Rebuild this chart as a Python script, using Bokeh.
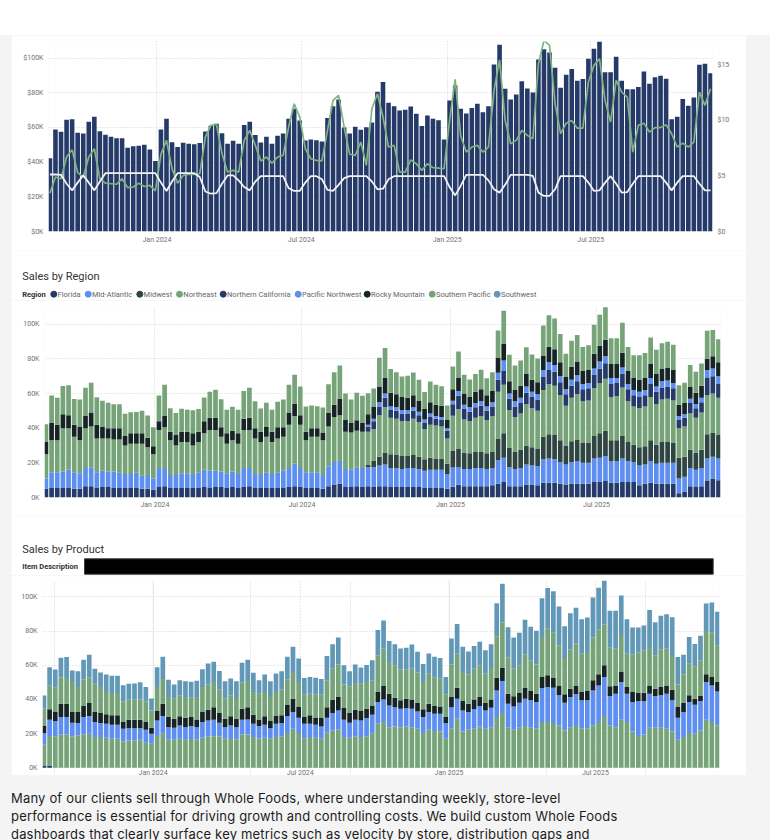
import numpy as np
import pandas as pd
from bokeh.plotting import figure
from bokeh.models import (ColumnDataSource, Range1d, LinearAxis, FixedTicker,
                          DatetimeTickFormatter, PrintfTickFormatter, Div)
from bokeh.layouts import column
from bokeh.core.properties import value
from bokeh.embed import file_html
from bokeh.resources import INLINE

# ---------------------------------------------------------------- data
weeks = pd.date_range("2023-08-19", periods=120, freq="7D")
tick_dates = ["2024-01-01", "2024-07-01", "2025-01-01", "2025-07-01"]
tick_labels = ["Jan 2024", "Jul 2024", "Jan 2025", "Jul 2025"]

# weekly sales, $K
sales_k = [42.3, 58.8, 57.5, 64.4, 64.8, 56.9, 56.5, 63.3, 66.2, 57.9, 55.8, 54.6, 53.8, 53.8, 48.3,
           49.2, 49.4, 50.0, 47.3, 40.6, 58.8, 65.0, 51.5, 48.7, 51.2, 50.6, 50.4, 51.0, 57.7, 61.0,
           62.1, 56.7, 50.6, 52.3, 50.6, 61.5, 63.3, 55.6, 51.3, 54.6, 50.6, 55.2, 56.5, 65.0, 70.8,
           64.0, 52.5, 53.1, 52.7, 51.9, 65.4, 72.3, 76.2, 60.0, 56.5, 60.4, 58.7, 60.2, 62.9, 80.6,
           86.2, 74.2, 72.3, 69.8, 70.2, 72.1, 67.9, 60.8, 66.9, 65.0, 64.2, 53.1, 75.6, 84.2, 70.8,
           68.1, 71.3, 73.7, 68.8, 72.3, 96.3, 107.7, 82.3, 76.2, 79.0, 86.7, 82.5, 80.2, 99.2, 105.2,
           103.3, 94.4, 82.9, 90.4, 93.7, 86.9, 87.9, 99.6, 105.4, 109.8, 91.9, 91.9, 100.8, 86.9, 82.1,
           82.1, 83.3, 92.3, 85.2, 89.0, 89.8, 88.1, 64.8, 66.2, 76.5, 72.5, 77.3, 96.2, 96.7, 91.3]

# average unit price, $ (green line)
avg_unit_price = [3.45, 4.9, 4.75, 6.7, 7.35, 5.3, 4.9, 6.7, 7.45, 4.75, 4.35, 4.3, 4.25, 4.75, 3.95,
                  4.0, 4.35, 4.05, 4.15, 3.65, 6.95, 8.2, 5.65, 4.35, 5.05, 5.15, 5.15, 5.2, 8.5, 9.55,
                  9.65, 7.0, 5.35, 5.5, 5.35, 8.2, 9.1, 7.75, 6.35, 6.7, 6.15, 6.7, 6.85, 9.4, 11.5,
                  10.3, 7.45, 6.55, 6.4, 6.35, 9.1, 11.8, 12.25, 9.4, 6.95, 6.85, 8.05, 5.95, 11.05, 12.4,
                  10.3, 7.6, 7.75, 5.35, 5.35, 6.45, 6.1, 5.5, 6.1, 5.75, 5.7, 5.65, 10.0, 13.7, 8.6,
                  7.15, 7.6, 7.75, 7.15, 7.6, 12.7, 15.45, 10.0, 7.9, 8.2, 9.1, 8.65, 8.35, 15.1, 17.2,
                  16.75, 11.5, 8.8, 9.75, 10.0, 9.3, 9.3, 13.45, 14.95, 15.55, 11.8, 9.85, 13.6, 12.55, 12.1,
                  7.15, 9.55, 9.75, 8.95, 9.35, 9.35, 9.6, 8.8, 7.6, 7.95, 7.6, 8.05, 12.55, 11.35, 12.85]

# shelf price, $ (white line)
shelf_price = [5.13, 5.13, 5.1, 4.3, 3.7, 4.4, 5.05, 4.4, 3.7, 4.5, 5.25, 5.25, 5.25, 5.25, 5.25,
               5.25, 5.25, 5.25, 5.25, 5.25, 4.4, 3.65, 4.5, 5.25, 5.25, 5.25, 5.25, 4.9, 3.6, 3.4,
               3.45, 4.3, 5.05, 5.05, 4.6, 4.0, 3.7, 4.5, 4.98, 4.98, 4.98, 4.98, 4.98, 3.9, 3.65,
               3.65, 4.4, 4.98, 4.98, 4.7, 3.75, 3.65, 4.2, 4.8, 4.98, 4.98, 4.98, 4.98, 4.5, 3.8,
               3.85, 4.7, 4.98, 4.98, 4.98, 4.98, 4.98, 4.98, 4.98, 4.98, 4.98, 4.98, 4.0, 3.25, 4.1,
               5.1, 5.1, 5.1, 5.1, 4.6, 3.8, 3.5, 4.2, 5.1, 5.1, 5.1, 5.1, 5.0, 3.5, 3.2,
               3.2, 3.8, 4.98, 4.98, 4.98, 4.98, 4.98, 4.4, 3.65, 3.7, 4.4, 4.98, 4.3, 3.5, 3.55,
               4.3, 4.98, 4.98, 4.98, 4.98, 4.98, 4.4, 3.7, 4.4, 4.98, 4.98, 4.98, 4.3, 3.7, 3.7]

# sales by region, $K
florida = [5.0, 5.5, 5.5, 5.5, 5.5, 5.0, 5.0, 6.5, 6.5, 5.5, 6.0, 6.0, 5.5, 5.5, 5.5, 5.5, 5.5, 5.0, 5.0, 4.5,
           6.0, 6.5, 5.5, 5.5, 5.5, 5.5, 5.5, 5.5, 6.0, 5.5, 6.0, 6.0, 5.5, 6.0, 5.5, 6.0, 6.5, 5.5, 5.5, 5.5,
           5.5, 5.5, 5.5, 6.0, 6.5, 6.0, 5.5, 5.5, 5.5, 5.0, 6.5, 7.5, 8.0, 6.0, 6.0, 6.5, 6.0,
           6.5, 6.0, 6.5, 6.5, 6.0, 6.0, 6.0, 6.0, 6.0, 6.0, 5.5, 5.5, 5.5, 5.5, 5.0, 6.2, 7.3, 6.5, 6.5,
           6.5, 6.5, 6.5, 7.0, 8.0, 9.0, 6.5, 6.5, 6.5, 7.5, 7.5, 7.0, 8.5, 8.5, 8.5, 8.0, 7.5, 8.0, 8.0,
           8.0, 8.0, 9.0, 9.0, 9.5, 8.5, 8.5, 9.0, 9.0, 9.0, 7.0, 8.0, 8.5, 8.0, 8.0, 8.0, 8.0, 2.5, 3.5,
           6.5, 6.0, 6.5, 9.5, 11.0, 10.0]
mid_atlantic = [6.0, 9.0, 9.0, 9.5, 10.5, 9.5, 9.0, 10.5, 11.0, 9.0, 9.5, 9.0, 9.5, 9.0, 8.0, 8.0, 9.0, 7.5,
                8.0, 6.5, 10.5, 10.5, 7.5, 7.5, 8.5, 8.5, 7.5, 9.0, 10.0, 10.0, 9.5, 9.0, 8.5, 9.0, 8.0,
                11.0, 10.5, 8.0, 7.5, 9.0, 8.0, 9.0, 10.0, 11.0, 13.0, 11.0, 9.0, 9.0, 9.0, 8.0, 11.5,
                13.0, 13.0, 10.5, 10.0, 11.0, 11.0,
                11.0, 11.5, 12.0, 12.5, 11.0, 11.0, 10.5, 11.0, 11.0, 10.5, 10.0, 10.5, 10.5, 10.5, 8.5,
                11.1, 10.0, 10.0, 10.0, 10.5, 10.5, 10.0, 10.0, 13.5, 14.0, 11.0, 10.0, 10.5, 11.5, 11.0,
                11.0, 13.5, 14.0, 13.5, 12.5, 11.5, 12.5, 13.0, 12.0, 12.0, 13.5, 14.0, 14.5, 12.5, 12.5,
                13.5, 12.0, 11.5, 11.5, 11.0, 12.5, 11.5, 12.0, 12.0, 12.0, 8.5, 8.5, 10.5, 10.0, 10.5,
                13.0, 12.5, 12.5]
midwest = [0.0] * 57 + [
           1.5, 3.5, 5.0, 7.0, 8.0, 7.5, 7.5, 7.0, 7.5, 7.0, 6.5, 7.0, 6.5, 6.5, 6.0, 9.6, 11.0, 9.5,
           9.0, 9.5, 9.5, 9.0, 9.5, 12.5, 14.0, 11.0, 10.0, 10.5, 11.0, 10.5, 10.0, 13.0, 14.0, 14.0,
           12.5, 11.0, 12.0, 12.5, 11.5, 11.5, 13.0, 14.0, 14.5, 12.0, 12.0, 13.0, 11.0, 10.0, 10.5,
           10.5, 12.0, 11.0, 12.0, 12.0, 11.5, 12.0, 11.5, 10.5, 10.0, 10.5, 14.0, 14.0, 13.5]
northeast = [14.0, 18.5, 18.5, 25.0, 24.0, 20.5, 19.0, 23.0, 23.5, 19.5, 18.5, 19.0, 18.5, 19.0, 16.5, 17.5,
             16.5, 18.5, 16.0, 14.0, 22.5, 23.5, 20.0, 17.0, 18.0, 18.0, 17.0, 17.5, 21.0, 23.5, 23.5,
             20.0, 17.0, 18.0, 17.5, 22.0, 22.0, 20.5, 19.0, 20.5, 18.5, 19.5, 19.5, 25.0, 27.5, 25.0,
             18.5, 20.5, 20.5, 20.0, 23.0, 26.0, 26.5, 21.5, 21.5, 21.0, 21.0,
             19.0, 18.5, 24.0, 26.0, 21.0, 21.0, 20.0, 20.0, 21.0, 20.0, 17.5, 19.0, 19.0, 18.5, 14.5,
             20.2, 22.7, 19.0, 18.5, 19.5, 20.5, 19.0, 20.5, 27.0, 28.0, 22.0, 20.0, 21.0, 24.0, 22.5,
             22.0, 27.0, 29.0, 28.5, 26.0, 23.0, 25.0, 26.0, 24.0, 24.5, 27.5, 29.0, 30.0, 25.0, 25.5,
             28.0, 23.5, 22.0, 22.5, 23.0, 25.0, 23.5, 24.5, 25.0, 24.5, 17.0, 17.5, 21.0, 20.0, 21.5,
             22.5, 22.5, 21.5]
northern_california = [0.0] * 57 + [
             3.0, 4.5, 5.0, 5.5, 4.5, 4.5, 4.5, 4.5, 4.5, 4.0, 3.5, 4.5, 4.0, 4.0, 4.5, 6.7, 7.7, 6.0,
             5.5, 6.0, 6.0, 5.5, 5.5, 7.0, 8.0, 6.5, 6.0, 6.0, 6.5, 6.5, 6.5, 7.5, 8.0, 8.0, 7.5, 6.5,
             7.0, 7.5, 7.0, 7.0, 8.0, 8.5, 9.0, 7.5, 7.5, 8.0, 7.0, 6.5, 6.5, 6.5, 7.5, 7.0, 7.0, 7.0,
             7.0, 5.0, 5.0, 6.0, 5.5, 6.0, 10.0, 10.0, 8.0]
pacific_northwest = [0.0] * 57 + [
             1.0, 1.5, 2.5, 2.5, 2.0, 2.0, 2.0, 2.0, 2.0, 2.0, 2.0, 2.0, 1.5, 1.5, 1.5, 2.0, 2.8, 2.5,
             2.5, 2.5, 2.5, 2.5, 2.5, 4.0, 6.0, 3.0, 3.0, 3.0, 3.5, 3.0, 3.0, 4.0, 4.5, 4.0, 3.5, 3.0,
             3.5, 3.5, 3.0, 3.0, 3.5, 4.0, 4.0, 3.5, 3.0, 3.5, 3.0, 3.0, 3.0, 3.0, 3.5, 3.0, 3.5, 3.5,
             3.0, 2.0, 2.0, 2.5, 2.5, 2.5, 4.5, 4.5, 4.5]
rocky_mountain = [7.0, 10.0, 9.0, 8.0, 7.5, 7.0, 8.0, 7.0, 8.0, 8.0, 7.0, 6.0, 6.5, 6.5, 5.5, 6.0, 6.0, 6.0,
                  5.5, 4.5, 5.0, 6.5, 5.0, 6.0, 6.0, 6.0, 7.0, 6.0, 7.0, 7.0, 7.0, 5.5, 6.0, 5.5, 6.0,
                  6.5, 7.0, 6.0, 6.0, 6.0, 6.0, 6.5, 5.5, 7.0, 7.0, 5.5, 5.0, 5.0, 5.0, 4.5, 8.0, 7.0,
                  9.5, 7.0, 5.5, 6.0, 5.0,
                  6.0, 7.0, 9.0, 9.0, 8.0, 7.5, 7.5, 7.0, 7.0, 6.5, 6.0, 6.5, 6.5, 6.5, 5.0, 6.7, 7.7,
                  6.5, 6.0, 6.5, 7.0, 6.5, 6.5, 8.5, 9.5, 7.0, 6.5, 7.0, 7.5, 7.0, 7.0, 8.5, 9.0, 9.0,
                  8.0, 7.0, 7.5, 8.0, 7.5, 7.5, 8.5, 9.0, 9.5, 8.0, 8.0, 8.5, 7.5, 7.0, 7.0, 7.0, 8.0,
                  7.5, 7.5, 7.5, 7.5, 6.5, 6.5, 7.0, 6.5, 7.0, 6.5, 7.0, 8.0]
southwest = [0.0] * 120

# sales by product, $K (bottom to top); the top product takes the remainder
product_a = [1.4, 1.4] + [0.0] * 118
product_b = [12.1, 17.2, 18.4, 19.5, 19.5, 18.4, 19.0, 19.5, 19.9, 18.0, 18.0, 17.6, 17.0, 17.0, 15.4, 16.0,
             16.0, 16.4, 14.6, 14.1, 18.6, 19.9, 16.4, 16.4, 17.0, 16.4, 16.8, 16.4, 17.6, 18.4, 18.4,
             18.4, 17.0, 17.4, 16.6, 19.5, 19.5, 18.0, 17.2, 17.6, 17.0, 18.0, 18.4, 20.3, 22.9, 20.3,
             17.0, 18.0, 17.6, 17.0, 20.5, 21.9, 22.5, 18.0, 17.6, 18.4, 18.0, 18.4, 19.9, 25.8, 26.8,
             23.8, 24.2, 23.8, 24.2, 23.8, 22.9, 20.3, 22.5, 21.5, 21.3, 17.0, 23.2, 28.7, 21.3, 22.3,
             22.9, 24.2, 22.9, 23.4, 29.7, 32.0, 23.8, 22.3, 23.4, 24.4, 23.4, 23.2, 26.8, 26.8, 26.2,
             24.8, 21.9, 23.4, 24.4, 23.2, 23.2, 24.8, 26.8, 30.3, 24.8, 23.8, 28.1, 26.8, 21.3, 18.6,
             19.5, 23.4, 23.4, 23.4, 23.2, 21.3, 16.4, 18.0, 20.3, 19.9, 21.9, 28.1, 26.8, 24.8]
product_c = [6.8, 9.5, 8.9, 10.2, 10.2, 8.0, 7.2, 10.2, 10.4, 8.8, 8.2, 8.2, 8.2, 8.2, 7.5, 7.2, 7.2, 6.8,
             7.7, 5.8, 9.1, 10.4, 7.4, 7.0, 7.8, 7.4, 7.6, 7.4, 9.2, 9.3, 9.7, 8.0, 6.8, 7.4, 7.2, 8.6,
             8.8, 7.8, 7.2, 7.6, 6.2, 7.8, 7.8, 9.8, 9.7, 9.0, 8.8, 7.8, 7.6, 7.2, 8.8, 10.1, 11.1, 10.1,
             8.8, 9.7, 9.7, 10.7, 11.2, 12.7, 13.2,
             12.7, 11.3, 10.8, 10.8, 10.8, 10.1, 9.4, 10.1, 10.1, 10.3, 9.2, 12.3, 11.7, 12.3, 10.3,
             11.3, 11.9, 10.7, 11.8, 15.6, 18.8, 13.7, 13.6, 14.7, 16.0, 16.1, 15.3, 19.9, 20.5, 20.7,
             17.6, 16.2, 18.0, 18.6, 16.3, 16.3, 20.5, 21.4, 22.8, 17.2, 19.6, 22.1, 16.6, 17.2, 20.3,
             19.4, 20.0, 18.6, 19.0, 20.2, 18.2, 12.9, 14.6, 18.2, 17.0, 17.2, 22.1, 21.4, 19.9]
product_d = [4.5, 6.1, 5.7, 7.8, 7.8, 6.6, 6.4, 6.4, 7.6, 5.8, 5.8, 5.5, 5.5, 5.5, 4.2, 4.9, 4.9, 4.9, 4.5,
             3.5, 5.9, 7.2, 5.9, 5.3, 5.3, 5.5, 5.3, 4.5, 6.2, 6.3, 7.4, 5.6, 4.9, 5.3, 4.9, 6.5, 7.2,
             5.3, 3.9, 4.9, 4.5, 4.5, 4.5, 7.0, 7.8, 6.6, 3.9, 4.9, 3.9, 4.9, 6.2, 7.8, 7.8, 6.9, 5.6,
             5.9, 5.9, 5.5, 5.4, 6.2, 7.9,
             6.9, 5.5, 4.9, 5.4, 5.4, 4.9, 4.5, 4.9, 4.5, 4.3, 3.5, 5.9, 6.5, 5.5, 4.9, 5.8, 5.3, 4.3,
             4.8, 7.4, 7.6, 5.9, 5.9, 5.7, 6.3, 5.8, 4.9, 6.4, 6.8, 5.6, 5.8, 4.9, 4.9, 5.2, 5.2, 5.8,
             5.9, 6.5, 6.9, 5.7, 4.8, 6.2, 3.9, 5.8, 4.9, 5.0, 4.8, 4.3, 4.9, 4.8, 6.2, 6.6, 5.3, 3.9,
             3.5, 2.9, 4.5, 5.3, 5.5]
product_e = [9.8, 13.8, 13.9, 15.4, 15.0, 17.2, 14.7, 15.7, 14.8, 16.6, 15.3, 13.0, 13.1, 13.1, 11.8, 11.7,
             11.9, 11.9, 12.1, 10.2, 13.7, 14.5, 11.7, 11.7, 12.3, 12.1, 11.3, 13.1, 14.3, 14.8, 14.7,
             13.7, 11.7, 12.3, 12.1, 15.4, 15.3, 13.2, 15.1, 14.2, 13.7, 14.0, 15.0, 14.7, 15.7, 14.3,
             13.1, 12.7, 13.7, 13.7, 15.7, 18.2, 19.1, 13.8, 15.7, 15.6, 15.6, 15.6, 14.7, 21.1, 21.8,
             18.5, 19.0, 17.9, 17.0, 18.0, 17.8, 16.0, 17.6, 16.6, 16.2, 13.3, 19.1, 19.9, 17.0, 17.2,
             18.0, 18.6, 17.2, 18.4, 24.3, 26.6, 21.1, 16.2, 16.2, 19.7, 17.6, 17.0, 23.5, 27.3, 26.6,
             23.5, 21.3, 23.0, 24.5, 22.1, 22.5, 25.0, 26.4, 24.0, 22.6, 21.5, 21.3, 19.5, 22.1, 23.6,
             24.9, 22.5, 19.5, 22.0, 21.5, 19.1, 12.9, 16.8, 18.5, 19.0, 20.9, 25.4, 25.6, 21.5]

region_names = ["Florida", "Mid-Atlantic", "Midwest", "Northeast", "Northern California",
                "Pacific Northwest", "Rocky Mountain", "Southern Pacific", "Southwest"]

# ---------------------------------------------------------------- derived columns
total = np.array(sales_k)
region_known = [florida, mid_atlantic, midwest, northeast, northern_california,
                pacific_northwest, rocky_mountain]
southern_pacific = total - np.sum(np.array(region_known), axis=0) - np.array(southwest)
product_f = total - np.sum(np.array([product_a, product_b, product_c, product_d, product_e]), axis=0)

# ---------------------------------------------------------------- styling
FONT = "Roboto"
NAVY = "#253a69"
BLUE = "#5e8ff0"
SLATE = "#2e4541"
GREEN = "#76a478"
BLACK = "#172425"
STEEL = "#6198b8"
LINE_GREEN = "#7fb382"
AXIS_GRAY = "#6f6f6f"
GRID_GRAY = "#d2d2d2"
PAGE_GRAY = "#f4f4f4"

region_colors = [NAVY, BLUE, SLATE, GREEN, NAVY, BLUE, BLACK, GREEN, STEEL]
product_colors = [NAVY, GREEN, BLUE, BLACK, GREEN, STEEL]

DAY_MS = 86400000.0
bar_width = 5.8 * DAY_MS
tick_ms = [pd.Timestamp(d).value / 1e6 for d in tick_dates]
x_start = pd.Timestamp("2023-08-17 05:00")
x_end = pd.Timestamp("2025-12-01 12:00")
date_fmt = DatetimeTickFormatter(days="%b %Y", months="%b %Y", years="%b %Y")


def style_axes(p, standoff=5):
    p.outline_line_color = None
    p.background_fill_color = "white"
    p.border_fill_color = "white"
    for ax in p.axis:
        ax.axis_line_color = None
        ax.major_tick_line_color = None
        ax.minor_tick_line_color = None
        ax.major_tick_out = 0
        ax.major_label_text_font = FONT
        ax.major_label_text_font_size = "7px"
        ax.major_label_text_color = AXIS_GRAY
        ax.major_label_standoff = standoff
    for g in p.grid:
        g.grid_line_color = GRID_GRAY
        g.grid_line_dash = "1 2"
        g.grid_line_width = 1


def header_fig(h):
    f = figure(width=735, height=h, x_range=Range1d(0, 735), y_range=Range1d(h, 0),
               x_axis_location=None, y_axis_location=None, toolbar_location=None,
               output_backend="svg", min_border=0, margin=(0, 24, 0, 11), frame_align=False)
    f.outline_line_color = None
    f.background_fill_color = "white"
    f.border_fill_color = "white"
    for g in f.grid:
        g.visible = False
    return f


# ---------------------------------------------------------------- sales + price chart
src = ColumnDataSource(dict(date=weeks, total=total, avg_unit_price=avg_unit_price,
                            shelf_price=shelf_price))

p1 = figure(width=735, height=215, x_axis_type="datetime",
            x_range=Range1d(x_start, x_end), y_range=Range1d(0, 109.6),
            toolbar_location=None, output_backend="svg", frame_align=False,
            min_border_left=37, min_border_right=34, min_border_top=6, min_border_bottom=19,
            margin=(0, 24, 0, 11))
p1.extra_y_ranges = {"price": Range1d(0, 17.1)}
p1.vbar(x="date", top="total", width=bar_width, source=src, fill_color=NAVY, line_color=None)
p1.line(x="date", y="avg_unit_price", source=src, y_range_name="price",
        line_color=LINE_GREEN, line_width=1.7)
p1.line(x="date", y="shelf_price", source=src, y_range_name="price",
        line_color="#f3f3f3", line_width=1.8)
p1.xaxis.ticker = FixedTicker(ticks=tick_ms)
p1.xaxis.formatter = date_fmt
p1.yaxis.ticker = FixedTicker(ticks=[0, 20, 40, 60, 80, 100])
p1.yaxis.formatter = PrintfTickFormatter(format="$%dK")
price_axis = LinearAxis(y_range_name="price", ticker=FixedTicker(ticks=[0, 5, 10, 15]),
                        formatter=PrintfTickFormatter(format="$%d"))
p1.add_layout(price_axis, "right")
style_axes(p1, standoff=5)
p1.xaxis.major_label_standoff = 4

# ---------------------------------------------------------------- region header + chart
h2 = header_fig(50)
h2.text(x=[10.7], y=[26], text=["Sales by Region"], text_font=value(FONT),
        text_font_size="11px", text_baseline="middle", text_color="#333333")
h2.text(x=[10.7], y=[43.7], text=["Region"], text_font=value(FONT), text_font_style="bold",
        text_font_size="7.5px", text_baseline="middle", text_color="#333333")
marker_x = [42.3, 76.7, 128.3, 168.0, 211.7, 286.7, 355.7, 420.7, 485.7]
h2.scatter(x=marker_x, y=[43.7] * 9, size=6, marker="circle", color=region_colors)
h2.text(x=[m + 3.8 for m in marker_x], y=[43.7] * 9, text=region_names, text_font=value(FONT),
        text_font_size="7.5px", text_baseline="middle", text_color="#666666")

region_keys = ["r%d" % k for k in range(9)]
region_cols = [florida, mid_atlantic, midwest, northeast, northern_california,
               pacific_northwest, rocky_mountain, southern_pacific, southwest]
rsrc = ColumnDataSource(dict(date=weeks, **{k: v for k, v in zip(region_keys, region_cols)}))

p2 = figure(width=735, height=215, x_axis_type="datetime",
            x_range=Range1d(x_start, x_end), y_range=Range1d(0, 110.2),
            toolbar_location=None, output_backend="svg", frame_align=False,
            min_border_left=33, min_border_right=26, min_border_top=6, min_border_bottom=18,
            margin=(0, 24, 0, 11))
p2.vbar_stack(region_keys, x="date", width=bar_width, color=region_colors, source=rsrc,
              line_color=None)
p2.xaxis.ticker = FixedTicker(ticks=tick_ms)
p2.xaxis.formatter = date_fmt
p2.yaxis.ticker = FixedTicker(ticks=[0, 20, 40, 60, 80, 100])
p2.yaxis.formatter = PrintfTickFormatter(format="%dK")
style_axes(p2, standoff=5)
p2.xaxis.major_label_standoff = 3

# ---------------------------------------------------------------- product header + chart
h3 = header_fig(60)
h3.text(x=[10.7], y=[34], text=["Sales by Product"], text_font=value(FONT),
        text_font_size="11px", text_baseline="middle", text_color="#333333")
h3.text(x=[10.7], y=[51], text=["Item Description"], text_font=value(FONT), text_font_style="bold",
        text_font_size="7.5px", text_baseline="middle", text_color="#333333")
h3.quad(left=[73], right=[701.7], top=[43.3], bottom=[58.7], fill_color="black",
        line_color="#3c3c3c", line_width=1)

product_keys = ["p%d" % k for k in range(6)]
product_cols = [product_a, product_b, product_c, product_d, product_e, product_f]
psrc = ColumnDataSource(dict(date=weeks, **{k: v for k, v in zip(product_keys, product_cols)}))

# the panel edge cuts through the date labels, so the frame runs to the canvas bottom
p3_top = 109.6
p3 = figure(width=735, height=200, x_range=Range1d(x_start, x_end), y_range=Range1d(-4.5, p3_top),
            x_axis_location=None, toolbar_location=None, output_backend="svg", frame_align=False,
            min_border_left=31, min_border_right=27, min_border_top=5, min_border_bottom=0,
            margin=(0, 24, 0, 11))
p3.segment(x0=tick_ms, y0=[0] * 4, x1=tick_ms, y1=[p3_top] * 4, line_color=GRID_GRAY,
           line_dash="1 2", line_width=1)
p3.vbar_stack(product_keys, x="date", width=bar_width, color=product_colors, source=psrc,
              line_color=None)
p3.yaxis.ticker = FixedTicker(ticks=[0, 20, 40, 60, 80, 100])
p3.yaxis.formatter = PrintfTickFormatter(format="%dK")
style_axes(p3, standoff=5)
p3.text(x=tick_ms, y=[-2.75] * 4, text=tick_labels, text_align="center", text_baseline="middle",
        text_font=value(FONT), text_font_size="7px", text_color=AXIS_GRAY)

# ---------------------------------------------------------------- page
top_strip = Div(text="", width=770, height=35, margin=0, styles={"background-color": "white"})
blurb = Div(
    text=('<div style="font-family: Inter, sans-serif; font-size: 13px; letter-spacing: 0.18px; '
          'line-height: 18px; color: #1c1c1c; padding: 14px 0 0 11px; white-space: nowrap;">'
          'Many of our clients sell through Whole Foods, where understanding weekly, store-level<br>'
          'performance is essential for driving growth and controlling costs. We build custom Whole Foods<br>'
          'dashboards that clearly surface key metrics such as velocity by store, distribution gaps and'
          '</div>'),
    width=770, height=65, margin=0, styles={"background-color": PAGE_GRAY, "overflow": "hidden"})

root = column(top_strip, p1, h2, p2, h3, p3, blurb, spacing=0,
              styles={"background-color": PAGE_GRAY})

open("out.html", "w").write(file_html(root, INLINE, title="Whole Foods sales"))
